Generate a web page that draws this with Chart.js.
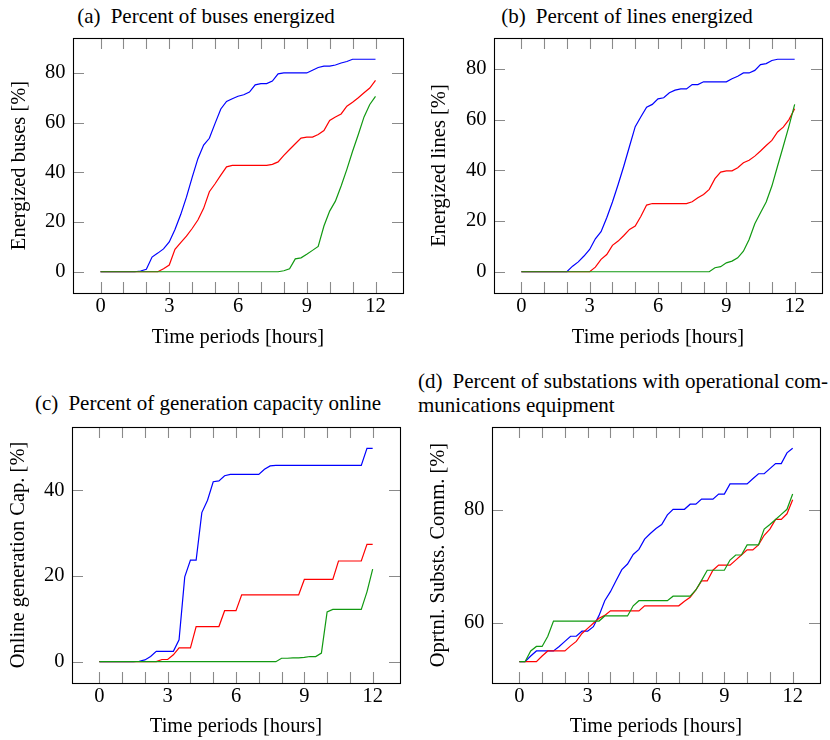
<!DOCTYPE html>
<html lang="en">
  <head>
    <meta charset="UTF-8" />
    <title>Restoration progress</title>
    <script src="https://cdn.jsdelivr.net/npm/chart.js@4.4.1/dist/chart.umd.min.js"></script>
    <style>
      body { margin: 0; width: 830px; height: 740px; position: relative; background: #fff; overflow: hidden; }
      canvas { position: absolute; }
      .cap { position: absolute; font-family: 'Liberation Serif', 'DejaVu Serif', serif; font-size: 21px; line-height: 24px; color: #000; white-space: nowrap; }
      .tag { margin-right: 0.48em; }
    </style>
  </head>
  <body>
    <div class="cap" style="left:0; width:412px; top:4px; text-align:center"><span class="tag">(a)</span>Percent of buses energized</div>
    <div class="cap" style="left:420px; width:414px; top:4px; text-align:center"><span class="tag">(b)</span>Percent of lines energized</div>
    <div class="cap" style="left:0; width:416px; top:391px; text-align:center"><span class="tag">(c)</span>Percent of generation capacity online</div>
    <div class="cap" style="left:418px; width:410px; top:369px; text-align:justify; text-align-last:justify"><span class="tag">(d)</span>Percent of substations with operational com-</div>
    <div class="cap" style="left:418px; top:393px">munications equipment</div>

    <canvas id="busesChart" width="415" height="330" style="left:0; top:30px"></canvas>
    <canvas id="linesChart" width="415" height="330" style="left:415px; top:30px"></canvas>
    <canvas id="genChart" width="415" height="325" style="left:0; top:415px"></canvas>
    <canvas id="commChart" width="415" height="325" style="left:415px; top:415px"></canvas>

    <script>
      // quarter-hour time steps
      const hours = [0, 0.25, 0.5, 0.75, 1, 1.25, 1.5, 1.75, 2, 2.25, 2.5, 2.75, 3, 3.25, 3.5, 3.75,
        4, 4.25, 4.5, 4.75, 5, 5.25, 5.5, 5.75, 6, 6.25, 6.5, 6.75, 7, 7.25, 7.5, 7.75,
        8, 8.25, 8.5, 8.75, 9, 9.25, 9.5, 9.75, 10, 10.25, 10.5, 10.75, 11, 11.25, 11.5, 11.75, 12];
      const xTickValues = [0, 1, 2, 3, 4, 5, 6, 7, 8, 9, 10, 11, 12];
      const xTickLabels = [0, 3, 6, 9, 12];

      // (a) buses energized [%]
      const busesBlue = [0, 0, 0, 0, 0, 0, 0, 0.3, 1.0, 5.9, 7.5, 9.2, 12, 17, 23, 30, 38, 45.5, 51, 53.7,
        59.7, 65.5, 68.5, 69.6, 70.6, 71.2, 72.3, 75.2, 75.7, 75.7, 76.7, 79.6, 80, 80, 80, 80, 80,
        81.1, 82.2, 82.7, 82.7, 83.2, 84, 84.6, 85.5, 85.5, 85.5, 85.5, 85.5];
      const busesRed = [0, 0, 0, 0, 0, 0, 0, 0, 0, 0, 0, 1.2, 2.7, 9, 11.7, 14.3, 17.4, 20.8, 25.5, 32.2,
        35.4, 38.9, 42.2, 42.8, 42.8, 42.8, 42.8, 42.8, 42.8, 42.8, 43.2, 44.2, 46.8, 49.2, 51.5, 53.8,
        54.2, 54.2, 55.2, 56.8, 60.9, 62.3, 63.5, 66.6, 68.2, 70, 72, 73.9, 77];
      const busesGreen = [0, 0, 0, 0, 0, 0, 0, 0, 0, 0, 0, 0, 0, 0, 0, 0, 0, 0, 0, 0, 0, 0, 0, 0, 0, 0, 0,
        0, 0, 0, 0, 0, 0.4, 1.2, 5.2, 5.6, 7, 8.6, 10.2, 18.4, 24.4, 28.4, 34.5, 41.2, 48.5, 55.2, 62.3, 67.3, 70.6];

      // (b) lines energized [%]
      const linesBlue = [0, 0, 0, 0, 0, 0, 0, 0, 0, 2.2, 3.9, 6.2, 8.8, 13, 15.8, 21.3, 27.5, 34.4, 41.7,
        49.5, 57.2, 61.1, 64.9, 66, 68.2, 68.6, 70.6, 71.6, 72.1, 72.1, 73.8, 73.8, 74.9, 74.9, 74.9, 74.9,
        74.9, 76.1, 77.1, 78.4, 78.4, 79.4, 81.7, 82.1, 83.3, 83.8, 83.8, 83.8, 83.8];
      const linesRed = [0, 0, 0, 0, 0, 0, 0, 0, 0, 0, 0, 0, 0, 1.8, 4.9, 6.8, 10.4, 12.1, 14.3, 16.7, 18,
        21.9, 26.3, 26.9, 26.9, 26.9, 26.9, 26.9, 26.9, 26.9, 27.6, 29.2, 30.5, 32.5, 36.7, 39.3, 39.8, 39.8,
        41, 43, 44, 45.6, 47.6, 49.8, 51.8, 55.1, 57, 60, 64.3];
      const linesGreen = [0, 0, 0, 0, 0, 0, 0, 0, 0, 0, 0, 0, 0, 0, 0, 0, 0, 0, 0, 0, 0, 0, 0, 0, 0, 0, 0,
        0, 0, 0, 0, 0, 0, 0, 1.6, 2, 3.5, 4.2, 5.5, 8.1, 12.7, 18.9, 23.3, 27.5, 33.8, 41.7, 49.5, 57.4, 66];

      // (c) generation capacity online [%]
      const genBlue = [0, 0, 0, 0, 0, 0, 0, 0.1, 0.4, 1.2, 2.4, 2.4, 2.4, 2.4, 5.1, 19.8, 23.7, 23.7, 34.8,
        37.7, 42, 42.2, 43.4, 43.7, 43.7, 43.7, 43.7, 43.7, 43.7, 44.9, 45.7, 45.8, 45.8, 45.8, 45.8, 45.8,
        45.8, 45.8, 45.8, 45.8, 45.8, 45.8, 45.8, 45.8, 45.8, 45.8, 45.8, 49.8, 49.8];
      const genRed = [0, 0, 0, 0, 0, 0, 0, 0, 0, 0, 0, 0.5, 0.5, 1.6, 3.2, 3.2, 3.2, 8.2, 8.2, 8.2, 8.2, 8.2,
        11.9, 11.9, 11.9, 15.6, 15.6, 15.6, 15.6, 15.6, 15.6, 15.6, 15.6, 15.6, 15.6, 15.6, 19.2, 19.2, 19.2,
        19.2, 19.2, 19.2, 23.5, 23.5, 23.5, 23.5, 23.5, 27.4, 27.4];
      const genGreen = [0, 0, 0, 0, 0, 0, 0, 0, 0, 0, 0, 0, 0, 0, 0, 0, 0, 0, 0, 0, 0, 0, 0, 0, 0, 0, 0, 0,
        0, 0, 0, 0, 0.8, 0.8, 0.9, 0.9, 1.0, 1.2, 1.2, 2.0, 11.6, 12.2, 12.2, 12.2, 12.2, 12.2, 12.2, 16.3, 21.6];

      // (d) substations with operational communications [%]
      const commBlue = [53.1, 53.1, 54.1, 55, 55, 55, 55, 55.8, 56.7, 57.6, 57.6, 58.5, 58.5, 59.3, 61.3,
        63.9, 65.5, 67.5, 69.4, 70.4, 72.1, 73, 74.8, 75.8, 76.7, 77.4, 79.1, 80.1, 80.1, 80.1, 81, 81,
        81.9, 81.9, 81.9, 82.8, 82.8, 84.6, 84.6, 84.6, 84.6, 85.5, 86.4, 86.4, 87.3, 88.2, 88.2, 90.1, 90.9];
      const commRed = [53.1, 53.1, 53.1, 53.1, 54.1, 55, 55, 55, 55, 55.9, 56.7, 58.1, 59.0, 59.9, 60.8,
        61.3, 62.1, 62.1, 62.1, 62.1, 62.1, 62.1, 63.0, 63.0, 63.0, 63.0, 63.0, 63.0, 63.0, 63.8, 64.5, 65.8,
        67.4, 67.4, 69.3, 70.2, 70.2, 70.2, 71.1, 72.0, 72.9, 72.9, 73.8, 75.5, 76.6, 78.3, 78.3, 79.3, 81.8];
      const commGreen = [53.1, 53.1, 55.0, 55.8, 55.8, 57.6, 60.3, 60.3, 60.3, 60.3, 60.3, 60.3, 60.3, 60.3,
        60.3, 61.2, 61.2, 61.2, 61.2, 61.2, 63.0, 63.9, 63.9, 63.9, 63.9, 63.9, 63.9, 64.7, 64.7, 64.7, 64.7,
        65.8, 67.5, 69.3, 69.3, 69.3, 69.3, 71.1, 72.0, 72.0, 73.8, 73.8, 73.8, 76.6, 77.4, 78.3, 79.2, 80.1, 82.8];

      const busesTicks = [0, 20, 40, 60, 80];
      const linesTicks = [0, 20, 40, 60, 80];
      const genTicks = [0, 20, 40];
      const commTicks = [60, 80];

      const colours = ['#0000ff', '#ff0000', '#119911'];
      const family = "'Liberation Serif', 'Times New Roman', serif";
      const fontSize = 20.5;

      // inside tick marks on all four sides, plus the black frame
      const framePlugin = {
        id: 'frame',
        beforeDatasetsDraw(chart) {
          const { ctx, chartArea: a, scales: { x, y } } = chart;
          ctx.save();
          ctx.strokeStyle = '#8a8a8a';
          ctx.lineWidth = 1.1;
          ctx.beginPath();
          x.ticks.forEach(t => {
            const px = Math.round(x.getPixelForValue(t.value)) + 0.5;
            ctx.moveTo(px, a.bottom); ctx.lineTo(px, a.bottom - 11);
            ctx.moveTo(px, a.top); ctx.lineTo(px, a.top + 11);
          });
          y.ticks.forEach(t => {
            const py = Math.round(y.getPixelForValue(t.value)) + 0.5;
            ctx.moveTo(a.left, py); ctx.lineTo(a.left + 11, py);
            ctx.moveTo(a.right, py); ctx.lineTo(a.right - 11, py);
          });
          ctx.stroke();
          ctx.restore();
        },
        afterDraw(chart) {
          const { ctx, chartArea: a } = chart;
          ctx.save();
          ctx.strokeStyle = '#000';
          ctx.lineWidth = 1.1;
          ctx.strokeRect(Math.round(a.left) + 0.5, Math.round(a.top) + 0.5,
            Math.round(a.right - a.left), Math.round(a.bottom - a.top));
          ctx.restore();
        }
      };

      // box: canvas position, frame: target plot frame, both in page pixels
      function panel(id, box, frame, yTitleX, xTitleY, yTitle, yTicks, series) {
        const all = series.flat();
        const lo = Math.min(...all), hi = Math.max(...all);
        const yPad = 0.1 * (hi - lo);
        const xPad = 0.1 * (hours[hours.length - 1] - hours[0]);
        const half = fontSize / 2;
        const pl = yTitleX - box.x - half;
        const yWidth = frame.l - box.x - pl;
        const xHeight = xTitleY + half - frame.b;
        const font = { family, size: fontSize, lineHeight: 1 };

        new Chart(document.getElementById(id), {
          type: 'line',
          data: {
            datasets: series.map((s, i) => ({
              label: ['blue', 'red', 'green'][i],
              data: hours.map((h, k) => ({ x: h, y: s[k] })),
              borderColor: colours[i],
              borderWidth: 1.2,
              pointRadius: 0,
              tension: 0,
              order: 3 - i
            }))
          },
          options: {
            responsive: false,
            animation: false,
            devicePixelRatio: 1,
            layout: {
              padding: {
                left: pl,
                right: box.x + box.w - frame.r,
                top: frame.t - box.y,
                bottom: box.y + box.h - (xTitleY + half)
              }
            },
            plugins: { legend: { display: false }, tooltip: { enabled: false } },
            scales: {
              x: {
                type: 'linear',
                min: hours[0] - xPad,
                max: hours[hours.length - 1] + xPad,
                grid: { display: false, drawTicks: false },
                border: { display: false },
                ticks: {
                  autoSkip: false, maxRotation: 0, padding: 3, color: '#000', font,
                  callback: v => xTickLabels.includes(v) ? String(v) : ''
                },
                afterBuildTicks: s => { s.ticks = xTickValues.map(v => ({ value: v })); },
                afterFit: s => { s.height = xHeight; s.paddingLeft = 0; s.paddingRight = 0; },
                title: { display: true, text: 'Time periods [hours]', color: '#000', font, padding: 0 }
              },
              y: {
                min: lo - yPad,
                max: hi + yPad,
                grid: { display: false, drawTicks: false },
                border: { display: false },
                ticks: { padding: 7.5, color: '#000', font },
                afterBuildTicks: s => { s.ticks = yTicks.map(v => ({ value: v })); },
                afterFit: s => { s.width = yWidth; s.paddingTop = 0; s.paddingBottom = 0; },
                title: { display: true, text: yTitle, color: '#000', font, padding: 0 }
              }
            }
          },
          plugins: [framePlugin]
        });
      }

      window.addEventListener('load', setup);

      async function setup() {
        // make sure the serif face is ready before the canvases draw text
        try {
          await document.fonts.load("20px 'Liberation Serif'");
          await document.fonts.ready;
        } catch (e) {}
        panel('busesChart', { x: 0, y: 30, w: 415, h: 330 }, { l: 73, r: 403, t: 38, b: 293 },
          20, 338, 'Energized buses [%]', busesTicks, [busesBlue, busesRed, busesGreen]);
        panel('linesChart', { x: 415, y: 30, w: 415, h: 330 }, { l: 494, r: 822, t: 38, b: 293 },
          440, 338, 'Energized lines [%]', linesTicks, [linesBlue, linesRed, linesGreen]);
        panel('genChart', { x: 0, y: 415, w: 415, h: 325 }, { l: 72, r: 400, t: 427, b: 683 },
          19, 727, 'Online generation Cap. [%]', genTicks, [genBlue, genRed, genGreen]);
        panel('commChart', { x: 415, y: 415, w: 415, h: 325 }, { l: 492, r: 820, t: 427, b: 683 },
          439, 727, 'Oprtnl. Substs. Comm. [%]', commTicks, [commBlue, commRed, commGreen]);
      }
    </script>
  </body>
</html>
